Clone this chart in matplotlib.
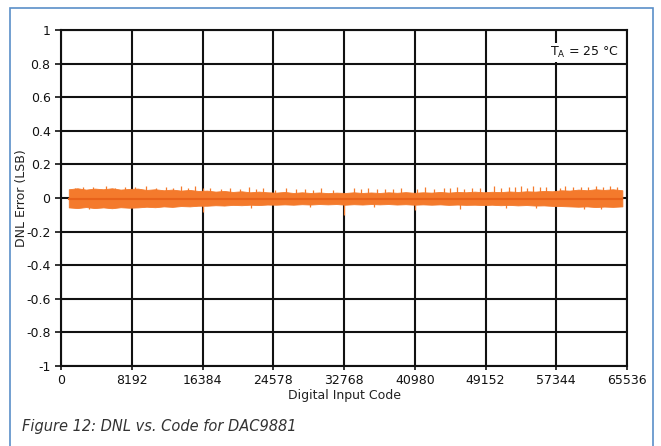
import matplotlib
matplotlib.use('Agg')
import numpy as np
from matplotlib import pyplot as plt
from matplotlib.patches import Rectangle

# envelope of the DNL trace (codes, LSB)
env_code = [900, 1900, 2900, 3900, 4900, 5900, 6900, 7900, 8900, 9900, 10900, 11900, 12900,
            13900, 14900, 15900, 16900, 17900, 18900, 19900, 20900, 21900, 22900, 23900,
            24900, 25900, 26900, 27900, 28900, 29900, 30900, 31900, 32900, 33900, 34900,
            35900, 36900, 37900, 38900, 39900, 40900, 41900, 42900, 43900, 44900, 45900,
            46900, 47900, 48900, 49900, 50900, 51900, 52900, 53900, 54900, 55900, 56900,
            57900, 58900, 59900, 60900, 61900, 62900, 63900, 65000]
env_upper = [0.052, 0.058, 0.050, 0.056, 0.052, 0.058, 0.050, 0.054, 0.056, 0.048, 0.052,
             0.046, 0.050, 0.044, 0.048, 0.042, 0.044, 0.038, 0.042, 0.036, 0.040, 0.034,
             0.038, 0.034, 0.032, 0.036, 0.030, 0.034, 0.030, 0.033, 0.029, 0.032, 0.030,
             0.034, 0.030, 0.033, 0.030, 0.034, 0.031, 0.035, 0.031, 0.034, 0.032, 0.036,
             0.032, 0.036, 0.034, 0.038, 0.034, 0.037, 0.035, 0.039, 0.036, 0.040, 0.038,
             0.042, 0.040, 0.046, 0.044, 0.050, 0.046, 0.052, 0.048, 0.052, 0.046]
env_lower = [-0.056, -0.060, -0.054, -0.060, -0.056, -0.061, -0.055, -0.058, -0.056, -0.052,
             -0.055, -0.050, -0.053, -0.048, -0.050, -0.046, -0.046, -0.043, -0.045, -0.041,
             -0.043, -0.040, -0.042, -0.039, -0.040, -0.038, -0.040, -0.037, -0.039, -0.036,
             -0.038, -0.036, -0.040, -0.037, -0.039, -0.036, -0.038, -0.036, -0.039, -0.037,
             -0.040, -0.038, -0.040, -0.038, -0.041, -0.039, -0.041, -0.040, -0.042, -0.040,
             -0.043, -0.041, -0.044, -0.042, -0.045, -0.044, -0.047, -0.048, -0.050, -0.052,
             -0.050, -0.054, -0.051, -0.053, -0.050]

# isolated spikes sticking out of the band
spike_code = [1600, 2600, 3700, 5200, 6300, 7400, 8600, 9800, 11000, 12100, 13000, 13900,
              14700, 15500, 16400, 17300, 18500, 19600, 20700, 21800, 22600, 23400, 24800,
              26000, 27200, 28300, 29200, 30100, 31500, 33900, 34700, 35600, 36600, 37500,
              38400, 39400, 41200, 42100, 43200, 44300, 45000, 45800, 46700, 47600, 48500,
              50100, 51000, 51900, 52600, 53300, 54000, 54700, 55500, 56200, 57800, 58400,
              59300, 60200, 61000, 61900, 62700, 63600, 64400]
spike_high = [0.062, 0.068, 0.064, 0.070, 0.062, 0.066, 0.064, 0.072, 0.060, 0.064, 0.058,
              0.070, 0.060, 0.074, 0.058, 0.060, 0.054, 0.062, 0.056, 0.066, 0.052, 0.058,
              0.050, 0.060, 0.052, 0.056, 0.050, 0.062, 0.050, 0.058, 0.052, 0.062, 0.054,
              0.056, 0.052, 0.060, 0.056, 0.064, 0.054, 0.058, 0.060, 0.066, 0.056, 0.060,
              0.058, 0.072, 0.060, 0.064, 0.068, 0.074, 0.062, 0.070, 0.064, 0.066, 0.062,
              0.072, 0.064, 0.068, 0.066, 0.074, 0.066, 0.070, 0.064]
dip_code = [3200, 16384, 22000, 28800, 32768, 36200, 40960, 46200, 51500, 55000, 60500, 62500]
dip_low = [-0.068, -0.085, -0.060, -0.056, -0.100, -0.056, -0.072, -0.068, -0.058, -0.062,
           -0.064, -0.066]

x_ticks = [0, 8192, 16384, 24576, 32768, 40960, 49152, 57344, 65536]
x_labels = ['0', '8192', '16384', '24578', '32768', '40980', '49152', '57344', '65536']
y_ticks = [1, 0.8, 0.6, 0.4, 0.2, 0, -0.2, -0.4, -0.6, -0.8, -1]
y_labels = ['1', '0.8', '0.6', '0.4', '0.2', '0', '-0.2', '-0.4', '-0.6', '-0.8', '-1']

orange = '#f47a2c'
fig = plt.figure(figsize=(6.61, 4.46), dpi=100)
fig.patches.append(Rectangle((10 / 661, -0.1), 643 / 661, 1.1 - 8 / 446, transform=fig.transFigure,
                             fill=False, edgecolor='#5a8fc8', linewidth=1.2))
ax = fig.add_axes([61 / 661, 1 - 366 / 446, 566 / 661, 336 / 446])

ax.fill_between(env_code, env_lower, env_upper, color=orange, linewidth=0.6, edgecolor=orange,
                zorder=3)
ax.vlines(spike_code, 0, spike_high, color=orange, linewidth=0.9, zorder=3)
ax.vlines(dip_code, dip_low, 0, color=orange, linewidth=0.9, zorder=3)
ax.plot([env_code[0], env_code[-1]], [-0.003, -0.003], color='#e8621a', linewidth=1.5, zorder=4)

ax.set_xlim(0, 65536)
ax.set_ylim(-1, 1)
ax.set_xticks(x_ticks)
ax.set_xticklabels(x_labels)
ax.set_yticks(y_ticks)
ax.set_yticklabels(y_labels)
ax.grid(True, color='#111111', linewidth=1.5, zorder=1)
ax.set_axisbelow(True)
for s in ax.spines.values():
    s.set_linewidth(1.5)
    s.set_color('#111111')
ax.tick_params(axis='both', labelsize=9, colors='#111111', width=1.2, length=4)
ax.tick_params(axis='x', length=3, pad=3)
ax.set_xlabel('Digital Input Code', fontsize=9, color='#222222', labelpad=1)
ax.set_ylabel('DNL Error (LSB)', fontsize=9, color='#222222')
ax.yaxis.set_label_coords(-0.058, 0.5)

ax.text(0.985, 0.955, r'T$_\mathregular{A}$ = 25 °C', transform=ax.transAxes, ha='right', va='top',
        fontsize=9, color='#111111', zorder=6,
        bbox=dict(facecolor='white', edgecolor='none', pad=1.5))

fig.text(22 / 661, 1 - 427 / 446, 'Figure 12: DNL vs. Code for DAC9881', fontsize=10.5,
         style='italic', color='#333333', va='center')

fig.savefig('out.png', dpi=100)
